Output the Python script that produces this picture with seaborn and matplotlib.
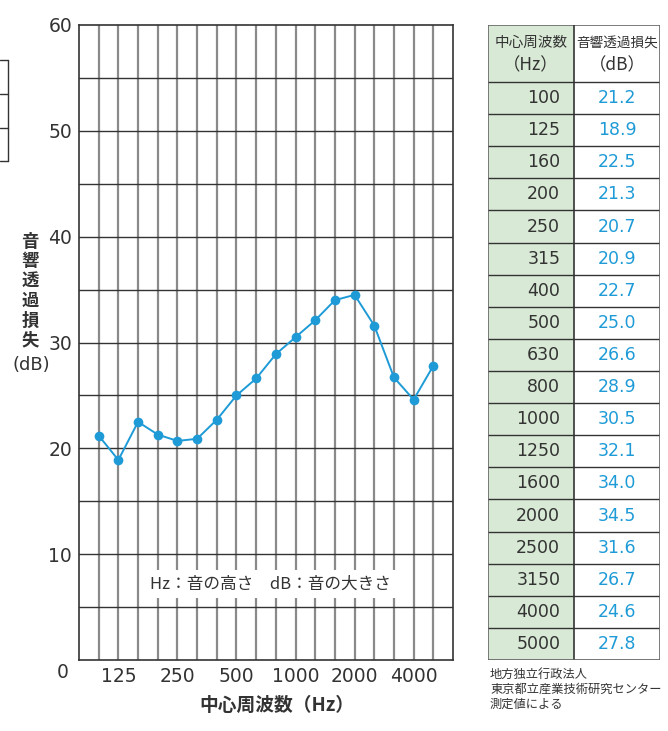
import numpy as np
import pandas as pd
import matplotlib
matplotlib.use("Agg")
import matplotlib.pyplot as plt
from matplotlib.patches import Rectangle
import seaborn as sns

freqs = [100, 125, 160, 200, 250, 315, 400, 500, 630, 800,
         1000, 1250, 1600, 2000, 2500, 3150, 4000, 5000]
loss_db = [21.2, 18.9, 22.5, 21.3, 20.7, 20.9, 22.7, 25.0, 26.6, 28.9,
           30.5, 32.1, 34.0, 34.5, 31.6, 26.7, 24.6, 27.8]
xtick_labels = ["125", "250", "500", "1000", "2000", "4000"]
ytick_values = [10, 20, 30, 40, 50, 60]

sns.set_style("white")
plt.rcParams['font.family'] = ['Noto Sans CJK JP', 'DejaVu Sans']
NUM_FONT = ['DejaVu Sans', 'Noto Sans CJK JP']

BLUE = "#1e9bd7"
TXT = "#333333"
GREEN = "#d8ead5"

df = pd.DataFrame({"pos": np.arange(1, len(freqs) + 1), "db": loss_db})

W, H = 668, 731
fig = plt.figure(figsize=(W / 100, H / 100), dpi=100)

def fig_rect(x0, y0, x1, y1):
    return [x0 / W, 1 - y1 / H, (x1 - x0) / W, (y1 - y0) / H]

ax = fig.add_axes(fig_rect(79, 25, 453, 660))
ax.set_xlim(0, len(freqs) + 1)
ax.set_ylim(0, 60)

# grid
for xv in range(1, len(freqs) + 1):
    ax.axvline(xv, color="#8a8a8a", lw=1.6, zorder=1)
for yv in range(5, 60, 5):
    ax.axhline(yv, color="#333333", lw=1.0, zorder=1)

ax.text(9.75, 7.2, "Hz：音の高さ　dB：音の大きさ", ha="center", va="center",
        fontsize=12, color=TXT, zorder=3,
        bbox=dict(facecolor="white", edgecolor="none", pad=4.0))

sns.lineplot(data=df, x="pos", y="db", ax=ax, color=BLUE, lw=1.4,
             marker="o", markersize=7, markeredgewidth=0, zorder=4)

tick_pos = [freqs.index(int(t)) + 1 for t in xtick_labels]
ax.set_xticks(tick_pos)
ax.set_xticklabels(xtick_labels, fontsize=13.5, color=TXT, family=NUM_FONT)
ax.set_yticks(ytick_values)
ax.set_yticklabels([str(v) for v in ytick_values], fontsize=13.5, color=TXT,
                   family=NUM_FONT)
ax.tick_params(length=0, pad=5)
ax.text(-0.55, -1.15, "0", ha="right", va="center", fontsize=13.5, color=TXT,
        family=NUM_FONT)
ax.set_xlabel("")
ax.set_ylabel("")
for s in ax.spines.values():
    s.set_color("#333333")
    s.set_linewidth(1.2)

fig.text(277 / W, 1 - 705 / H, "中心周波数（Hz）", ha="center", va="center",
         fontsize=13.5, fontweight="bold", color=TXT)
fig.text(30 / W, 1 - 291 / H, "音\n響\n透\n過\n損\n失", ha="center", va="center",
         fontsize=12.5, fontweight="bold", color=TXT, linespacing=1.12)
fig.text(31 / W, 1 - 365 / H, "(dB)", ha="center", va="center",
         fontsize=13, color=TXT, family=NUM_FONT)

# table on the right
tx = fig.add_axes(fig_rect(488, 25, 660, 660))
n = len(freqs)
head = 57 / 32.1
tx.set_xlim(0, 1)
tx.set_ylim(n + head, 0)
tx.axis("off")
tx.add_patch(Rectangle((0, 0), 0.5, n + head, facecolor=GREEN, edgecolor="none"))
for r in range(n + 1):
    yy = head + r
    tx.plot([0, 1], [yy, yy], color="#333333", lw=1.0)
tx.plot([0, 1], [0, 0], color="#666666", lw=1.2)
tx.plot([0, 0], [0, n + head], color="#666666", lw=1.2)
tx.plot([1, 1], [0, n + head], color="#666666", lw=1.2)
tx.plot([0.5, 0.5], [0, n + head], color="#333333", lw=1.2)
tx.plot([0, 1], [n + head, n + head], color="#666666", lw=1.2)
tx.text(0.25, head * 0.32, "中心周波数", ha="center", va="center", fontsize=10.5, color=TXT)
tx.text(0.25, head * 0.7, "（Hz）", ha="center", va="center", fontsize=12.5, color=TXT)
tx.text(0.75, head * 0.32, "音響透過損失", ha="center", va="center", fontsize=9.8, color=TXT)
tx.text(0.75, head * 0.7, "（dB）", ha="center", va="center", fontsize=12.5, color=TXT)
for i, (f, v) in enumerate(zip(freqs, loss_db)):
    yc = head + i + 0.5
    tx.text(0.42, yc, str(f), ha="right", va="center", fontsize=12.5, color=TXT,
            family=NUM_FONT)
    tx.text(0.75, yc, f"{v:.1f}", ha="center", va="center", fontsize=12.5, color=BLUE,
            family=NUM_FONT)

fig.text(490 / W, 1 - 668 / H, "地方独立行政法人\n東京都立産業技術研究センター\n測定値による",
         ha="left", va="top", fontsize=8.8, color=TXT, linespacing=1.2)

# edge of a neighbouring table, cut off at the left
for yy in [60, 94, 128, 161]:
    fig.add_artist(plt.Line2D([0, 8 / W], [1 - yy / H, 1 - yy / H], color="#333333", lw=1))
fig.add_artist(plt.Line2D([8 / W, 8 / W], [1 - 60 / H, 1 - 161 / H], color="#333333", lw=1))

fig.savefig("out.png", dpi=100)
